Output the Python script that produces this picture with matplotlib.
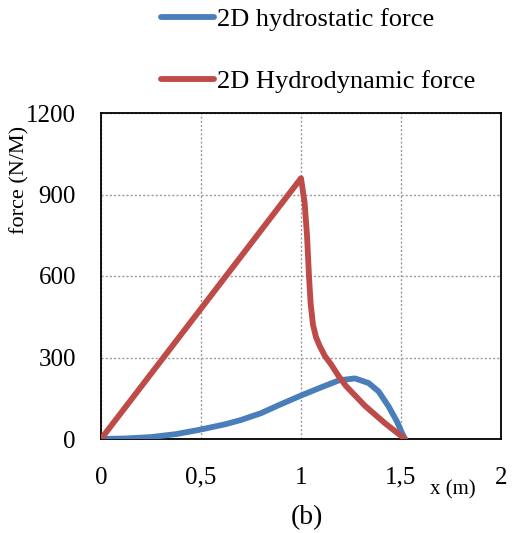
import matplotlib
matplotlib.use("Agg")
import matplotlib.pyplot as plt
from matplotlib.lines import Line2D

plt.rcParams['font.family'] = ['Liberation Serif', 'DejaVu Serif']

# Data
blue_x = [0, 0.125, 0.25, 0.375, 0.5, 0.625, 0.7, 0.8, 0.89, 1.0, 1.09, 1.19, 1.27, 1.338, 1.388, 1.438, 1.48, 1.505, 1.52]
blue_y = [0, 2, 7, 18, 35, 55, 70, 95, 125, 160, 187, 216, 223, 206, 175, 120, 64, 22, 0]
red_x = [0, 1.0, 1.018, 1.03, 1.04, 1.048, 1.06, 1.075, 1.095, 1.12, 1.15, 1.185, 1.225, 1.32, 1.42, 1.52]
red_y = [0, 960, 870, 750, 600, 500, 420, 375, 340, 305, 275, 235, 195, 122, 58, 0]
x_ticks = [0, 0.5, 1, 1.5, 2]
x_labels = ["0", "0,5", "1", "1,5", "2"]
y_ticks = [0, 300, 600, 900, 1200]
y_labels = ["0", "300", "600", "900", "1200"]
series_names = ["2D hydrostatic force", "2D Hydrodynamic force"]
colors = ["#4a7ebb", "#be4b48"]

W, H = 512, 533
fig = plt.figure(figsize=(W / 100, H / 100), dpi=100)
ax = fig.add_axes([101 / W, 1 - 439 / H, 400 / W, 326 / H])

ax.plot(blue_x, blue_y, color=colors[0], lw=4.2, solid_joinstyle='round', solid_capstyle='round', zorder=3)
ax.plot(red_x, red_y, color=colors[1], lw=4.2, solid_joinstyle='round', solid_capstyle='round', zorder=4)

ax.set_xlim(0, 2)
ax.set_ylim(0, 1200)
ax.set_xticks(x_ticks)
ax.set_xticklabels(x_labels)
ax.set_yticks(y_ticks)
ax.set_yticklabels(y_labels)
ax.tick_params(axis='both', length=0, labelsize=18)
ax.tick_params(axis='x', pad=20)
ax.tick_params(axis='y', pad=18)
ax.grid(True, color='#999999', lw=1, linestyle=(0, (1.5, 1.5)))
ax.set_axisbelow(True)
for s in ax.spines.values():
    s.set_color('black')
    s.set_linewidth(1.3)

handles = [Line2D([], [], color=c, lw=4.2, solid_capstyle='round') for c in colors]
fig.legend(handles, series_names, loc='upper left', bbox_to_anchor=(161 / W, 1 - 8 / H),
           frameon=False, fontsize=19, handlelength=2.0, handletextpad=0.12,
           labelspacing=1.45, borderpad=0, borderaxespad=0)

fig.text(20 / W, 1 - 180 / H, "force (N/M)", rotation=90, fontsize=16, ha='center', va='center')
fig.text(453 / W, 1 - 490 / H, "x (m)", fontsize=15, ha='center', va='center')
fig.text(307 / W, 1 - 518 / H, "(b)", fontsize=20, ha='center', va='center')

fig.savefig("out.png", dpi=100)
